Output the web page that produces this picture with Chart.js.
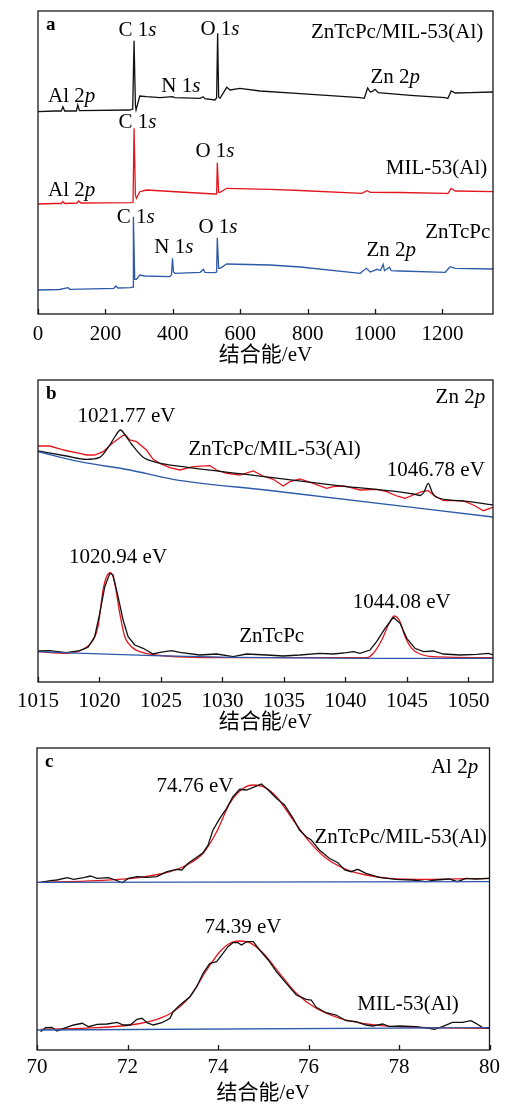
<!DOCTYPE html>
<html>
<head>
<meta charset="utf-8">
<script src="https://cdn.jsdelivr.net/npm/chart.js@4.4.1/dist/chart.umd.min.js"></script>
<style>
  html, body { margin: 0; padding: 0; background: #fff; }
  .panel { position: absolute; left: 0; width: 505px; }
</style>
</head>
<body>
<div class="panel" style="top:0"><canvas id="chartA" width="505" height="370"></canvas></div>
<div class="panel" style="top:370px"><canvas id="chartB" width="505" height="365"></canvas></div>
<div class="panel" style="top:735px"><canvas id="chartC" width="505" height="369"></canvas></div>
<script>
// ---- panel a: survey spectra, [binding energy eV, intensity a.u.]
const surveyComposite = [[0,202.3],[50,203],[69,203],[74,207.3],[79,203],[114,203],[118,209],[123,203.3],[272,204],[281,205],[285,273.3],[289,209],[291,204],[302,218],[322,217.3],[362,216.3],[399,217.3],[406,216.3],[481,215.7],[490,217.3],[495,215.3],[525,214],[530,216],[533,280.7],[536,217],[540,215.7],[560,226.7],[570,224],[599,225.7],[659,223],[778,220.3],[956,216.3],[968,215.7],[978,226],[986,222],[992,222.7],[1000,224.7],[1009,221.3],[1105,218.7],[1208,216.3],[1216,215.5],[1226,223],[1238,221],[1283,221.3],[1350,222]];
const surveyMIL = [[0,110],[50,110.5],[69,110.5],[74,112.5],[79,110.5],[115,111],[121,113],[127,111],[278,111.3],[282,112],[285,185.7],[289,119],[292,115.7],[302,122.3],[322,124],[421,122],[525,120],[530,120],[532,151.3],[536,121.7],[540,121.7],[560,125.7],[689,124.7],[778,123.5],[961,120.7],[976,123.3],[986,121.7],[1075,121.5],[1208,120.7],[1216,120.5],[1226,125.7],[1238,123],[1350,122.3]];
const surveyZnTcPc = [[0,24],[64,24.5],[89,26.3],[94,24.7],[225,25.7],[231,28],[237,26],[275,26.3],[282,27],[283,97.3],[287,34.7],[292,34.7],[302,39],[317,38],[391,37.3],[396,39],[399,55.7],[402,42],[406,40.7],[481,41.7],[491,44.7],[495,41.7],[525,41.3],[530,42],[532,76.3],[536,45.7],[540,45.7],[560,50],[689,49],[778,47],[956,40.7],[974,45.7],[986,42],[1006,44.7],[1016,43.5],[1024,49.7],[1028,43.3],[1043,46.7],[1048,43.3],[1075,43],[1208,41.7],[1223,47.3],[1238,45.7],[1350,45]];

// ---- panel b: Zn 2p
const zn2pCompositeRaw = [[1015.00,236],[1015.95,236],[1016.90,232.7],[1017.44,231],[1018.39,228.7],[1018.94,227],[1019.61,227],[1020.29,230.3],[1021.10,239.3],[1021.65,244.3],[1022.06,247.7],[1022.46,242],[1023.01,240.3],[1023.82,232],[1024.36,222.7],[1024.91,218.7],[1025.72,214.3],[1026.53,212],[1027.62,215.3],[1028.98,216.3],[1029.52,212],[1030.33,208.7],[1031.42,207],[1032.50,211],[1033.31,206],[1034.13,202.7],[1034.94,196],[1035.49,200.3],[1036.30,203],[1037.38,198.7],[1038.47,193.7],[1039.01,195.3],[1039.83,196],[1040.37,194.7],[1041.18,192],[1042.54,192.7],[1043.36,190.3],[1044.17,186],[1044.85,183.7],[1045.52,187],[1046.21,190.3],[1046.74,191.3],[1047.15,187],[1047.96,181.3],[1048.78,181.3],[1049.59,181],[1050.41,177],[1051.22,171.3],[1051.99,174.7]];
const zn2pCompositeFit = [[1015.00,231],[1017.31,226],[1018.94,222.7],[1020.02,224.7],[1020.84,237],[1021.24,245],[1021.71,252],[1022.14,246],[1022.60,238],[1023.55,224.7],[1024.64,219.7],[1026.80,215.3],[1033.05,205.8],[1039.56,196.2],[1045.52,188],[1046.07,186.5],[1046.39,190],[1046.74,198.7],[1047.04,190],[1047.37,185],[1049.32,181.3],[1051.99,177]];
const zn2pCompositeBg = [[1015.00,230.5],[1018.39,220.3],[1022.46,212],[1025.99,202.7],[1033.86,191.5],[1051.99,165]];
const zn2pPcRaw = [[1015.00,31],[1015.95,31.3],[1017.31,29.3],[1018.39,31.3],[1019.07,34.7],[1019.61,45.3],[1020.02,68.7],[1020.43,95.3],[1020.84,108.7],[1021.10,107],[1021.51,85.3],[1021.92,62],[1022.33,45.3],[1022.87,37],[1023.55,33.7],[1024.36,28],[1024.91,29.7],[1025.86,31.3],[1026.53,29.7],[1028.16,27],[1029.52,28],[1030.87,25.3],[1031.96,28],[1033.59,27],[1034.94,26],[1036.30,27],[1037.93,28.7],[1039.01,28],[1040.10,29.3],[1040.64,30.3],[1041.18,28.7],[1042.00,32],[1042.54,40.3],[1043.22,53.7],[1043.89,64.7],[1044.44,58.7],[1044.99,43.7],[1045.66,33.7],[1046.34,30.3],[1047.15,31],[1047.96,28],[1049.32,27],[1050.68,27.7],[1051.63,28.7],[1051.99,27]];
const zn2pPcFit = [[1015.00,30.3],[1017.31,28.7],[1018.66,32.7],[1019.48,42],[1019.88,55.3],[1020.29,92],[1020.57,105.3],[1020.92,109.3],[1021.24,98.7],[1021.65,68.7],[1022.06,45.3],[1022.60,35.3],[1023.55,29.3],[1025.45,26],[1030.87,24.3],[1041.73,24.3],[1042.27,28.7],[1042.95,42],[1043.49,57],[1043.98,66],[1044.44,60.3],[1044.85,45.3],[1045.39,33.7],[1046.07,28],[1047.15,25.3],[1051.99,24.3]];
const zn2pPcBg = [[1015.00,30.3],[1024.36,26.3],[1030.87,24.7],[1041.73,23.7],[1051.99,23.7]];

// ---- panel c: Al 2p
const al2pCompositeRaw = [[70.08,167.7],[70.30,169.3],[70.44,170],[70.67,172.3],[70.81,170.7],[71.03,172.3],[71.18,174],[71.33,171.7],[71.58,172.3],[71.73,170],[71.88,167.3],[72.02,171.7],[72.21,173.3],[72.43,172.7],[72.65,173.3],[72.87,178.3],[73.09,180.7],[73.20,180],[73.34,186.7],[73.53,192.7],[73.67,197.3],[73.78,205],[73.89,220],[74.04,231.7],[74.19,241.7],[74.33,253.3],[74.48,260.7],[74.63,260],[74.78,262.7],[74.96,266],[75.11,260],[75.29,251.7],[75.47,245],[75.66,231.7],[75.80,220],[75.95,213.3],[76.06,210],[76.24,200],[76.46,191.7],[76.65,187.3],[76.80,180],[76.94,178.3],[77.09,180.7],[77.27,176.7],[77.57,172.7],[77.93,170.7],[78.30,170],[78.59,168.3],[78.81,170],[79.11,171],[79.29,168.3],[79.48,171.7],[79.70,171],[79.99,171.7]];
const al2pCompositeFit = [[70.01,167.7],[71.33,169.3],[72.28,172.7],[72.94,178.3],[73.31,185],[73.67,196.7],[73.97,218.3],[74.26,246.7],[74.56,261.7],[74.78,265],[75.00,263.3],[75.29,253.3],[75.66,230],[76.02,208.3],[76.39,191.7],[76.83,180.7],[77.27,175],[77.79,171.7],[78.67,170.7],[79.99,171.7]];
const al2pCompositeBg = [[70.0,167.7],[80.0,168.3]];
const al2pMILRaw = [[70.08,18.3],[70.19,22.3],[70.33,22.7],[70.44,19],[70.59,21.7],[70.81,25],[71.00,26.7],[71.14,23.3],[71.33,25.7],[71.55,26],[71.77,27.7],[71.91,25],[72.06,25],[72.21,30.7],[72.32,31.7],[72.43,27.3],[72.57,25],[72.76,27.3],[72.94,31.7],[73.01,38.3],[73.16,45],[73.38,53.3],[73.53,63.3],[73.67,76.7],[73.82,86.7],[73.97,88.3],[74.11,96.7],[74.22,103.3],[74.33,107.3],[74.44,107.3],[74.52,105],[74.63,108.3],[74.78,108.3],[74.92,100],[75.11,90],[75.29,78.3],[75.51,66.7],[75.73,55],[75.95,50.7],[76.06,50],[76.17,42.7],[76.39,37.3],[76.61,35],[76.83,29.3],[77.05,28.3],[77.27,25],[77.42,24],[77.64,26],[77.79,23.3],[78.01,24],[78.37,23.3],[78.67,21.7],[78.78,20.7],[78.96,23.3],[79.18,27.7],[79.40,27.7],[79.59,29.3],[79.70,26.7],[79.84,22.7],[79.99,21.7]];
const al2pMILFit = [[70.08,20.7],[71.33,22.3],[72.06,25],[72.65,30.7],[73.01,38.3],[73.38,53.3],[73.75,80],[74.04,98.3],[74.26,106.7],[74.48,109],[74.70,107.3],[75.00,96.7],[75.36,76.7],[75.73,56.7],[76.17,41.7],[76.69,31.7],[77.20,26.7],[77.93,23.3],[79.99,21.7]];
const al2pMILBg = [[70.0,20],[80.0,22.3]];

// ---- annotations: [text, x, y, align]; *...* = italic
const surveyLabels = [
  ['C 1*s*', 295, 278, 'center'], ['O 1*s*', 540, 279, 'center'], ['ZnTcPc/MIL-53(Al)', 1321, 276, 'right'],
  ['N 1*s*', 424, 222.3, 'center'], ['Al 2*p*', 100, 212, 'center'], ['Zn 2*p*', 1060, 231, 'center'],
  ['C 1*s*', 295, 186, 'center'], ['O 1*s*', 525, 157, 'center'], ['MIL-53(Al)', 1333, 140, 'right'],
  ['Al 2*p*', 100, 118, 'center'],
  ['C 1*s*', 290, 91, 'center'], ['O 1*s*', 534, 81, 'center'], ['N 1*s*', 403, 61, 'center'],
  ['ZnTcPc', 1342, 76, 'right'], ['Zn 2*p*', 1048, 58, 'center']
];
const zn2pLabels = [
  ['Zn 2*p*', 1051.36, 278.7, 'right'], ['1021.77 eV', 1022.2, 260.3, 'center'],
  ['ZnTcPc/MIL-53(Al)', 1034.24, 227, 'center'], ['1046.78 eV', 1047.35, 206, 'center'],
  ['1020.94 eV', 1021.51, 119.3, 'center'], ['1044.08 eV', 1044.58, 73.7, 'center'],
  ['ZnTcPc', 1034.0, 40.3, 'center']
];
const al2pLabels = [
  ['Al 2*p*', 79.75, 276.7, 'right'], ['74.76 eV', 73.49, 258.3, 'center'],
  ['ZnTcPc/MIL-53(Al)', 79.94, 206.7, 'right'], ['74.39 eV', 74.55, 116.7, 'center'],
  ['MIL-53(Al)', 78.2, 40, 'center']
];

const BLACK = '#111111', RED = '#e3161e', BLUE = '#2d5aa8';
const SERIF = '"Liberation Serif", "Times New Roman", serif';
const AXIS_FONT = '"Liberation Serif", "Noto Sans CJK SC", serif';

Chart.defaults.font.family = SERIF;
Chart.defaults.color = '#000';

function drawRich(ctx, text, x, y, align, size) {
  const segs = text.split('*').map((t, i) => ({ t, it: i % 2 === 1 })).filter(s => s.t);
  let total = 0;
  segs.forEach(s => {
    ctx.font = (s.it ? 'italic ' : '') + size + 'px ' + SERIF;
    s.w = ctx.measureText(s.t).width;
    total += s.w;
  });
  let cx = align === 'right' ? x - total : align === 'center' ? x - total / 2 : x;
  ctx.textAlign = 'left';
  ctx.textBaseline = 'alphabetic';
  segs.forEach(s => {
    ctx.font = (s.it ? 'italic ' : '') + size + 'px ' + SERIF;
    ctx.fillText(s.t, cx, y);
    cx += s.w;
  });
}

const framePlugin = {
  id: 'frame',
  afterDraw(chart, args, opts) {
    const { ctx, chartArea: a, scales: { x, y } } = chart;
    ctx.save();
    ctx.strokeStyle = '#1a1a1a';
    ctx.lineWidth = 1.3;
    ctx.strokeRect(a.left, a.top, a.right - a.left, a.bottom - a.top);
    // inward tick marks
    x.ticks.forEach(t => {
      const px = Math.round(x.getPixelForValue(t.value)) + 0.5;
      ctx.beginPath();
      ctx.moveTo(px, a.bottom);
      ctx.lineTo(px, a.bottom - 5);
      ctx.stroke();
    });
    ctx.fillStyle = '#000';
    (opts.labels || []).forEach(([t, vx, vy, al]) => {
      drawRich(ctx, t, x.getPixelForValue(vx), y.getPixelForValue(vy), al, 21);
    });
    ctx.font = 'bold 19px ' + SERIF;
    ctx.textAlign = 'left';
    ctx.fillText(opts.letter, a.left + 8, a.top + 19);
    ctx.restore();
  }
};

function line(points, color, smooth) {
  return {
    data: points.map(([x, y]) => ({ x, y })),
    borderColor: color,
    borderWidth: 1.3,
    pointRadius: 0,
    fill: false,
    cubicInterpolationMode: smooth ? 'monotone' : 'default',
    tension: 0
  };
}

function makePanel(id, p) {
  return new Chart(document.getElementById(id), {
    type: 'line',
    data: { datasets: p.datasets },
    options: {
      responsive: false,
      devicePixelRatio: 1,
      animation: false,
      events: [],
      layout: { padding: { top: p.top, left: p.left, right: p.right, bottom: 0 } },
      plugins: {
        legend: { display: false },
        tooltip: { enabled: false },
        frame: { labels: p.labels, letter: p.letter }
      },
      scales: {
        x: {
          type: 'linear',
          min: p.min, max: p.max,
          afterFit: s => { s.height = p.axisH; },
          grid: { display: false, drawTicks: false },
          border: { display: false },
          ticks: { stepSize: p.step, includeBounds: false, autoSkip: false, maxRotation: 0,
                   padding: p.tickPad, font: { size: 21, family: SERIF }, color: '#000',
                   callback: v => String(v) },
          title: { display: true, text: '结合能/eV', color: '#000',
                   font: { size: 21, family: AXIS_FONT, lineHeight: 1 },
                   padding: { top: 0, bottom: p.titlePad } }
        },
        y: { display: false, min: 0, max: p.yMax }
      }
    },
    plugins: [framePlugin]
  });
}

makePanel('chartA', {
  letter: 'a', min: 0, max: 1350, step: 200, yMax: 303,
  top: 11, left: 38, right: 12, axisH: 56, tickPad: 8, titlePad: 4,
  labels: surveyLabels,
  datasets: [line(surveyComposite, BLACK), line(surveyMIL, RED), line(surveyZnTcPc, BLUE)]
});

makePanel('chartB', {
  letter: 'b', min: 1015, max: 1052, step: 5, yMax: 302,
  top: 10, left: 38, right: 12, axisH: 53, tickPad: 7, titlePad: 2,
  labels: zn2pLabels,
  datasets: [
    line(zn2pCompositeBg, BLUE, true), line(zn2pCompositeFit, BLACK, true), line(zn2pCompositeRaw, RED),
    line(zn2pPcBg, BLUE, true), line(zn2pPcRaw, BLACK), line(zn2pPcFit, RED, true)
  ]
});

makePanel('chartC', {
  letter: 'c', min: 70, max: 80, step: 2, yMax: 302,
  top: 13, left: 37, right: 15, axisH: 54, tickPad: 5, titlePad: 0,
  labels: al2pLabels,
  datasets: [
    line(al2pCompositeBg, BLUE), line(al2pCompositeRaw, BLACK), line(al2pCompositeFit, RED, true),
    line(al2pMILBg, BLUE), line(al2pMILRaw, BLACK), line(al2pMILFit, RED, true)
  ]
});
</script>
</body>
</html>
